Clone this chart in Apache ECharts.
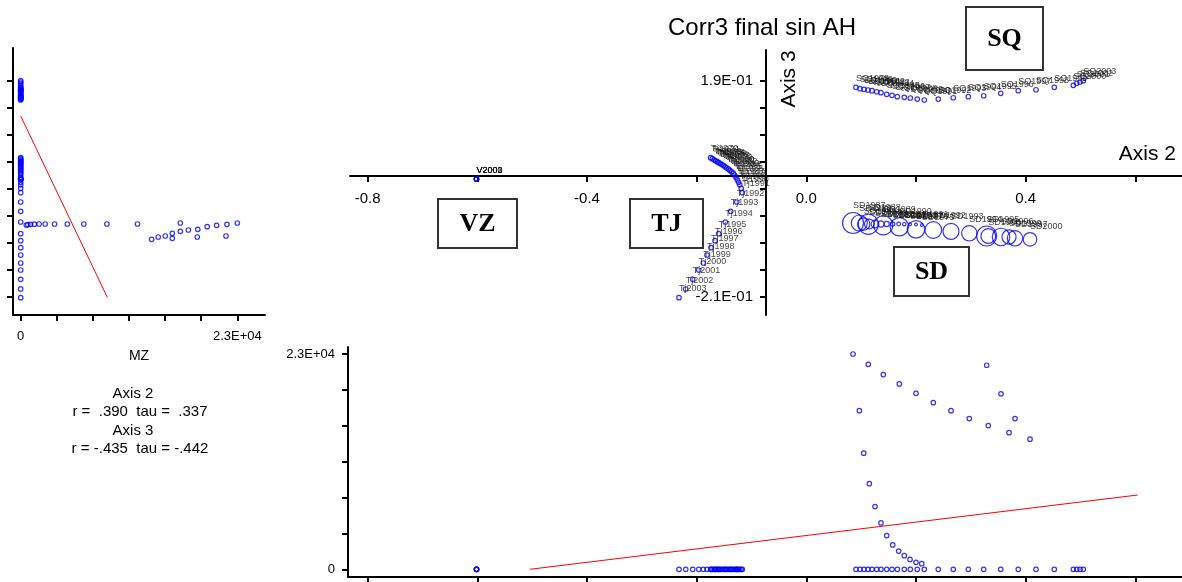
<!DOCTYPE html>
<html><head><meta charset="utf-8">
<script src="https://cdn.jsdelivr.net/npm/echarts@6/dist/echarts.min.js"></script>
<style>html,body{margin:0;padding:0;background:#fff}#c{width:1182px;height:582px}</style>
</head><body><div id="c"></div>
<script>
// ---------------- DATA ----------------
const vzLabels = ["V2000","V2001","V2002","V2003"];
const vzAxis2 = [-0.6015,-0.6015,-0.6015,-0.6015];
const vzAxis3 = [0.0080,0.0080,0.0080,0.0080];
const vzMZ = [0,0,0,0];

const tjLabels = ["Tj1970","Tj1971","Tj1972","Tj1973","Tj1974","Tj1975","Tj1976","Tj1977","Tj1978","Tj1979","Tj1980","Tj1981","Tj1982","Tj1983","Tj1984","Tj1985","Tj1986","Tj1987","Tj1988","Tj1989","Tj1990","Tj1991","Tj1992","Tj1993","Tj1994","Tj1995","Tj1996","Tj1997","Tj1998","Tj1999","Tj2000","Tj2001","Tj2002","Tj2003"];
const tjAxis2 = [-0.1744,-0.1714,-0.1683,-0.1654,-0.1625,-0.1596,-0.1567,-0.1537,-0.1508,-0.1479,-0.1450,-0.1421,-0.1392,-0.1361,-0.1333,-0.1308,-0.1282,-0.1258,-0.1235,-0.1213,-0.1187,-0.1167,-0.1269,-0.1379,-0.1477,-0.1598,-0.1665,-0.1738,-0.1811,-0.1879,-0.1962,-0.2072,-0.2200,-0.2322];
const tjAxis3 = [0.0474,0.0456,0.0435,0.0417,0.0400,0.0383,0.0367,0.0348,0.0328,0.0307,0.0285,0.0263,0.0239,0.0213,0.0187,0.0154,0.0111,0.0065,0.0019,-0.0028,-0.0093,-0.0174,-0.0346,-0.0519,-0.0717,-0.0933,-0.1063,-0.1193,-0.1328,-0.1476,-0.1606,-0.1778,-0.1957,-0.2119];
const tjMZ = [0,0,0,0,0,0,0,0,0,0,0,0,0,0,0,0,0,0,0,0,0,0,0,0,0,0,0,0,0,0,0,0,0,0];

const sqLabels = ["SQ1978","SQ1979","SQ1980","SQ1981","SQ1982","SQ1983","SQ1984","SQ1985","SQ1986","SQ1987","SQ1988","SQ1989","SQ1990","SQ1991","SQ1992","SQ1993","SQ1994","SQ1995","SQ1996","SQ1997","SQ1998","SQ1999","SQ2000","SQ2001","SQ2002","SQ2003"];
const sqAxis2 = [0.0906,0.0979,0.1053,0.1125,0.1198,0.1284,0.1362,0.1466,0.1563,0.1660,0.1787,0.1897,0.2024,0.2152,0.2407,0.2681,0.2955,0.3235,0.3546,0.3866,0.4189,0.4523,0.4870,0.4932,0.4992,0.5052];
const sqAxis3 = [0.1778,0.1752,0.1741,0.1728,0.1715,0.1696,0.1678,0.1648,0.1630,0.1604,0.1593,0.1580,0.1561,0.1543,0.1561,0.1585,0.1604,0.1622,0.1667,0.1715,0.1733,0.1778,0.1815,0.1852,0.1876,0.1900];
const sqMZ = [0,0,0,0,0,0,0,0,0,0,0,0,0,0,0,0,0,0,0,0,0,0,0,0,0,0];

const sdLabels = ["SD1975","SD1976","SD1977","SD1978","SD1979","SD1980","SD1981","SD1982","SD1983","SD1984","SD1985","SD1986","SD1987","SD1988","SD1989","SD1990","SD1991","SD1992","SD1993","SD1994","SD1995","SD1996","SD1997","SD1998","SD1999","SD2000"];
const sdAxis2 = [0.2105,0.2001,0.1891,0.1787,0.1685,0.1576,0.1466,0.1362,0.1253,0.1149,0.1047,0.0967,0.0852,0.1131,0.1404,0.1696,0.2001,0.2316,0.2639,0.2973,0.3290,0.3551,0.3806,0.3319,0.3697,0.4080];
const sdAxis3 = [-0.0772,-0.0765,-0.0760,-0.0757,-0.0754,-0.0754,-0.0754,-0.0754,-0.0754,-0.0754,-0.0754,-0.0735,-0.0735,-0.0759,-0.0778,-0.0804,-0.0852,-0.0865,-0.0889,-0.0926,-0.0976,-0.0994,-0.1019,-0.0976,-0.0994,-0.1037];
const sdMZ = [600,750,1050,1450,1950,2600,3600,4950,6700,9150,12400,16950,23000,21900,20800,19800,18800,17800,16950,16100,21800,18750,16100,15350,14600,13900];

// fitted lines (joint-plot regressions)
const fitMZvsAxis3_MZ = [0, 9196];
const fitMZvsAxis3_A3 = [0.1246, -0.2111];
const fitAxis2vsMZ_A2 = [-0.504, 0.6044];
const fitAxis2vsMZ_MZ = [0, 7937];

// ticks / labels
const tickA2 = [-0.8,-0.6,-0.4,-0.2,0,0.2,0.4,0.6];
const labA2 = [-0.8,-0.4,0,0.4];
const tickA3 = [0.19,0.14,0.09,0.04,-0.01,-0.06,-0.11,-0.16,-0.21];
const labA3 = [0.19,-0.21];
const tickMZ = [0,3833.33,7666.67,11500,15333.33,19166.67,23000];
const labMZ = [0,23000];

const statLines = ["Axis 2","r =  .390  tau =  .337","Axis 3","r = -.435  tau = -.442"];

// ---------------- CHART ----------------
const FONT = '"Liberation Sans", Arial, sans-serif';
const groups = [
  {labels:vzLabels,a2:vzAxis2,a3:vzAxis3,mz:vzMZ},
  {labels:tjLabels,a2:tjAxis2,a3:tjAxis3,mz:tjMZ},
  {labels:sqLabels,a2:sqAxis2,a3:sqAxis3,mz:sqMZ},
  {labels:sdLabels,a2:sdAxis2,a3:sdAxis3,mz:sdMZ}
];
function sci(v){
  if (v === 0) return '0';
  const s = v.toExponential(1).split('e');
  const e = parseInt(s[1],10);
  return s[0] + 'E' + (e < 0 ? '-' : '+') + String(Math.abs(e)).padStart(2,'0');
}
function sizeOf(m){ return m > 0 ? 2.2 + m * 0.000816 : 4.5; }

const A2MIN = -0.8322, A2MAX = 0.6852, A2MINB = -0.8359;
const A3MIN = -0.2439, A3MAX = 0.2469, A3MAXTL = 0.2506;
const MZMIN_TL = -818, MZMAX_TL = 25941, MZMIN_B = -823, MZMAX_B = 23748;

const lineStyle = {show:true, onZero:false, lineStyle:{color:'#000', width:2}};
const tickStyle = vals => ({show:true, inside:false, length:6, customValues:vals, lineStyle:{color:'#000', width:2}});
const hidden = (gi, min, max) => ({type:'value', gridIndex:gi, min:min, max:max, show:false});

const circleStyle = {color:'rgba(0,0,0,0)', borderColor:'#0000ff', borderWidth:1.2};

const series = [];
groups.forEach(g => {
  series.push({
    type:'scatter', xAxisIndex:0, yAxisIndex:0, symbol:'circle', silent:true,
    itemStyle:circleStyle,
    label:{show:true, formatter:'{b}', position:'inside', align:'left', verticalAlign:'middle',
           fontSize:9, color:'#111', fontFamily:FONT},
    data: g.labels.map((n,i) => {
      const d = sizeOf(g.mz[i]);
      return {name:n, value:[g.a2[i], g.a3[i]], symbolSize:d, label:{offset:[0, -(d/2 + 6.5)]}};
    })
  });
});
const tlData = [], bData = [];
groups.forEach(g => g.labels.forEach((n,i) => {
  tlData.push([g.mz[i], g.a3[i]]);
  bData.push([g.a2[i], g.mz[i]]);
}));
series.push({type:'scatter', xAxisIndex:3, yAxisIndex:3, symbol:'circle', symbolSize:4.5, silent:true, itemStyle:circleStyle, data:tlData});
series.push({type:'scatter', xAxisIndex:4, yAxisIndex:4, symbol:'circle', symbolSize:4.5, silent:true, itemStyle:circleStyle, data:bData});
series.push({type:'line', xAxisIndex:3, yAxisIndex:3, symbol:'none', silent:true, lineStyle:{color:'#ff0000', width:1},
  data: fitMZvsAxis3_MZ.map((m,i) => [m, fitMZvsAxis3_A3[i]])});
series.push({type:'line', xAxisIndex:4, yAxisIndex:4, symbol:'none', silent:true, lineStyle:{color:'#ff0000', width:1},
  data: fitAxis2vsMZ_A2.map((a,i) => [a, fitAxis2vsMZ_MZ[i]])});

function box(x,y,w,h,t){
  return {type:'group', children:[
    {type:'rect', shape:{x:x,y:y,width:w,height:h}, style:{fill:'#fff', stroke:'#333', lineWidth:2}},
    {type:'text', x:x+w/2, y:y+h/2+1, style:{text:t, fontSize:26, fontWeight:'bold', fontFamily:'"Liberation Serif", "Times New Roman", serif', fill:'#000', align:'center', verticalAlign:'middle'}}
  ]};
}
const txt = (x,y,t,size,align) => ({type:'text', x:x, y:y, style:{text:t, fontSize:size, fontFamily:FONT, fill:'#000', align:align||'center', verticalAlign:'middle'}});

const option = {
  animation:false,
  backgroundColor:'#fff',
  grid:[
    {left:350, top:50, width:832, height:265, outerBoundsMode:'none'},
    {left:350, top:175, width:832, height:1, outerBoundsMode:'none'},
    {left:766, top:50, width:1, height:265, outerBoundsMode:'none'},
    {left:13, top:48, width:252, height:267, outerBoundsMode:'none'},
    {left:348, top:347, width:834, height:230, outerBoundsMode:'none'}
  ],
  xAxis:[
    hidden(0, A2MIN, A2MAX),
    {type:'value', gridIndex:1, min:A2MIN, max:A2MAX, position:'bottom', axisLine:lineStyle, axisTick:tickStyle(tickA2),
     splitLine:{show:false},
     axisLabel:{show:true, customValues:labA2, formatter:v => v.toFixed(1), fontSize:15, margin:15, color:'#000', fontFamily:FONT}},
    hidden(2, 0, 1),
    {type:'value', gridIndex:3, min:MZMIN_TL, max:MZMAX_TL, position:'bottom', axisLine:lineStyle, axisTick:tickStyle(tickMZ),
     splitLine:{show:false},
     axisLabel:{show:true, customValues:labMZ, formatter:sci, fontSize:13, margin:15, color:'#000', fontFamily:FONT},
     name:'MZ', nameLocation:'middle', nameGap:34, nameTextStyle:{fontSize:14, color:'#000', fontFamily:FONT}},
    {type:'value', gridIndex:4, min:A2MINB, max:A2MAX, position:'bottom', axisLine:lineStyle, axisTick:tickStyle(tickA2),
     splitLine:{show:false}, axisLabel:{show:false}}
  ],
  yAxis:[
    hidden(0, A3MIN, A3MAX),
    hidden(1, 0, 1),
    {type:'value', gridIndex:2, min:A3MIN, max:A3MAX, position:'left', axisLine:lineStyle, axisTick:tickStyle(tickA3),
     splitLine:{show:false},
     axisLabel:{show:true, customValues:labA3, formatter:sci, fontSize:15, margin:13, color:'#000', fontFamily:FONT}},
    {type:'value', gridIndex:3, min:A3MIN, max:A3MAXTL, position:'left', axisLine:lineStyle, axisTick:tickStyle(tickA3),
     splitLine:{show:false}, axisLabel:{show:false}},
    {type:'value', gridIndex:4, min:MZMIN_B, max:MZMAX_B, position:'left', axisLine:lineStyle, axisTick:tickStyle(tickMZ),
     splitLine:{show:false},
     axisLabel:{show:true, customValues:labMZ, formatter:sci, fontSize:13, margin:13, color:'#000', fontFamily:FONT}}
  ],
  series:series,
  graphic:[
    txt(762, 28, 'Corr3 final sin AH', 24),
    txt(1176, 154, 'Axis 2', 21, 'right'),
    {type:'text', x:789, y:79, rotation:Math.PI/2, style:{text:'Axis 3', fontSize:21, fontFamily:FONT, fill:'#000', align:'center', verticalAlign:'middle'}},
    box(966, 7, 77, 63, 'SQ'),
    box(438, 199, 79, 49, 'VZ'),
    box(630, 199, 73, 49, 'TJ'),
    box(894, 247, 75, 49, 'SD'),
    txt(133, 394, statLines[0], 15),
    txt(140, 412, statLines[1], 15),
    txt(133, 431, statLines[2], 15),
    txt(140, 449, statLines[3], 15)
  ]
};
const chart = echarts.init(document.getElementById('c'), null, {renderer:'canvas'});
chart.setOption(option);
</script>
</body></html>
